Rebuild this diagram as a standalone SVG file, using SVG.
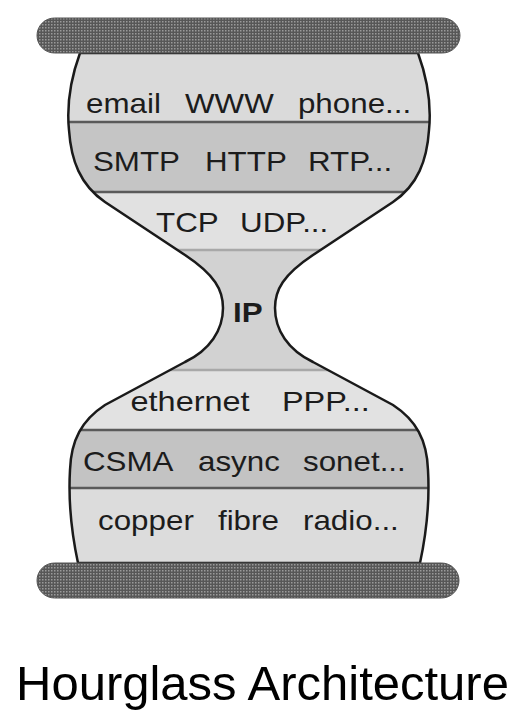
<svg xmlns="http://www.w3.org/2000/svg" width="522" height="717" viewBox="0 0 522 717">
<style>
.t{font-family:"Liberation Sans",Arial,sans-serif;font-size:28px;fill:#1c1c1c}
.b{font-weight:bold}
.dk{stroke:#5a5a5a;stroke-width:2.5}
.lt{stroke:#a8a8a8;stroke-width:2.5}
.bar{fill:url(#chk);stroke:#555;stroke-width:1}
</style>
<defs>
<pattern id="chk" width="3" height="3" patternUnits="userSpaceOnUse">
<rect width="3" height="3" fill="#575757"/>
<rect width="1.5" height="1.5" fill="#9a9a9a"/>
</pattern>
<path id="glass" d="M80,53 C72,75 66,100 69,130 C71,160 80,185 105,202 L185,255 C215,275 223,290 223,308 C223,330 210,350 185,362 L105,405 C82,420 71,440 70,470 C68,505 72,535 78,563 L420,563 C426,535 430,505 428,470 C427,440 416,420 393,405 L313,362 C288,350 275,330 275,308 C275,290 283,275 313,255 L393,202 C418,185 427,160 429,130 C432,100 426,75 418,53 Z"/>
<clipPath id="clip"><use href="#glass"/></clipPath>
</defs>
<g id="hourglass">
<g clip-path="url(#clip)">
<rect x="30" y="40" width="440" height="82" fill="#dadada"/>
<rect x="30" y="122" width="440" height="70" fill="#c5c5c5"/>
<rect x="30" y="192" width="440" height="58" fill="#e1e1e1"/>
<rect x="30" y="250" width="440" height="120" fill="#d2d2d2"/>
<rect x="30" y="370" width="440" height="60" fill="#e2e2e2"/>
<rect x="30" y="430" width="440" height="58" fill="#c3c3c3"/>
<rect x="30" y="488" width="440" height="90" fill="#dcdcdc"/>
<line class="dk" x1="30" y1="122" x2="470" y2="122"/>
<line class="dk" x1="30" y1="192" x2="470" y2="192"/>
<line class="lt" x1="30" y1="250" x2="470" y2="250"/>
<line class="lt" x1="30" y1="370" x2="470" y2="370"/>
<line class="dk" x1="30" y1="430" x2="470" y2="430"/>
<line class="dk" x1="30" y1="488" x2="470" y2="488"/>
</g>
<use href="#glass" fill="none" stroke="#1a1a1a" stroke-width="2.5"/>
</g>
<g id="layer-app"><text class="t" transform="scale(1.12,1)" y="113"><tspan x="76.8">email</tspan> <tspan x="165.2">WWW</tspan> <tspan x="266">phone...</tspan></text></g>
<g id="layer-proto"><text class="t" transform="scale(1.12,1)" y="171"><tspan x="83">SMTP</tspan> <tspan x="183">HTTP</tspan> <tspan x="275">RTP...</tspan></text></g>
<g id="layer-transport"><text class="t" transform="scale(1.12,1)" y="232"><tspan x="139.3">TCP</tspan> <tspan x="214.3">UDP...</tspan></text></g>
<g id="layer-ip"><text class="t b" transform="scale(1.12,1)" x="208" y="322">IP</text></g>
<g id="layer-link"><text class="t" transform="scale(1.16,1)" y="411"><tspan x="112.5">ethernet</tspan> <tspan x="243">PPP...</tspan></text></g>
<g id="layer-mac"><text class="t" transform="scale(1.12,1)" y="471"><tspan x="74">CSMA</tspan> <tspan x="176.8">async</tspan> <tspan x="270.5">sonet...</tspan></text></g>
<g id="layer-phys"><text class="t" transform="scale(1.12,1)" y="530"><tspan x="87.5">copper</tspan> <tspan x="194.6">fibre</tspan> <tspan x="270.5">radio...</tspan></text></g>
<g id="bars">
<rect class="bar" x="37" y="18" width="423" height="35" rx="17.5"/>
<rect class="bar" x="37" y="563" width="422" height="35" rx="17.5"/>
</g>
<text x="16" y="700" font-family="Liberation Sans, Arial, sans-serif" font-size="49" fill="#000">Hourglass Architecture</text>
</svg>
